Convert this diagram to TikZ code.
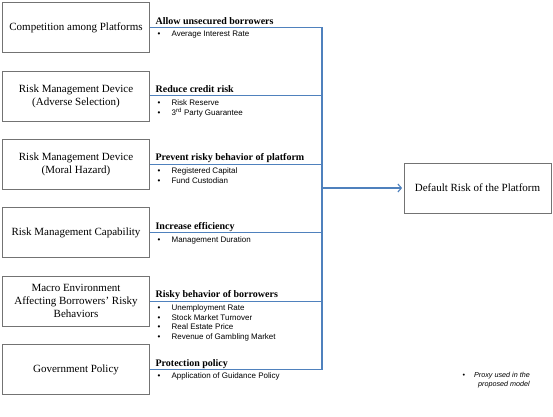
\documentclass[tikz,border=0pt]{standalone}
\usepackage{fontspec}
\setmainfont{Liberation Serif}
\setsansfont{Liberation Sans}
\usetikzlibrary{arrows.meta, positioning}

\definecolor{busblue}{RGB}{79,129,189}
\newcommand{\itm}[1]{\makebox[14pt][l]{\textbullet}#1}

\begin{document}
\begin{tikzpicture}[
    x=1pt, y=-1pt,
    factor/.style={draw=black!55, line width=0.8pt, minimum width=147pt, minimum height=50pt, align=center, inner sep=2pt, font=\fontsize{11}{13}\selectfont},
    head/.style={anchor=base west, inner sep=0pt, xshift=5.5pt, yshift=3.5pt, font=\fontsize{10}{12}\selectfont\bfseries},
    proxy/.style={anchor=base west, inner sep=0pt, xshift=7.5pt, yshift=-9.3pt, font=\sffamily\fontsize{8}{9.6}\selectfont},
    bus/.style={draw=busblue, line width=1.1pt, line join=miter},
    node distance=17.6pt,
]
\useasboundingbox (0,0) rectangle (553,416);

% Factors
\node[factor] (comp) at (76,27.5) {Competition among Platforms};
\node[factor, below=of comp] (adv) {Risk Management Device\\(Adverse Selection)};
\node[factor, below=of adv] (moral) {Risk Management Device\\(Moral Hazard)};
\node[factor, below=of moral] (capab) {Risk Management Capability};
\node[factor, below=of capab] (macro) {Macro Environment\\Affecting Borrowers' Risky\\Behaviors};
\node[factor, below=of macro] (gov) {Government Policy};

% Outcome
\node[factor] (risk) at (477.5,188) {Default Risk of the Platform};

% Mechanisms and proxies
\node[head] at (comp.east) {Allow unsecured borrowers};
\node[proxy] at (comp.east) {\begin{tabular}[t]{@{}l@{}}\itm{Average Interest Rate}\end{tabular}};
\node[head] at (adv.east) {Reduce credit risk};
\node[proxy] at (adv.east) {\begin{tabular}[t]{@{}l@{}}\itm{Risk Reserve}\\\itm{3\textsuperscript{rd} Party Guarantee}\end{tabular}};
\node[head] at (moral.east) {Prevent risky behavior of platform};
\node[proxy] at (moral.east) {\begin{tabular}[t]{@{}l@{}}\itm{Registered Capital}\\\itm{Fund Custodian}\end{tabular}};
\node[head] at (capab.east) {Increase efficiency};
\node[proxy] at (capab.east) {\begin{tabular}[t]{@{}l@{}}\itm{Management Duration}\end{tabular}};
\node[head] at (macro.east) {Risky behavior of borrowers};
\node[proxy] at (macro.east) {\begin{tabular}[t]{@{}l@{}}\itm{Unemployment Rate}\\\itm{Stock Market Turnover}\\\itm{Real Estate Price}\\\itm{Revenue of Gambling Market}\end{tabular}};
\node[head] at (gov.east) {Protection policy};
\node[proxy] at (gov.east) {\begin{tabular}[t]{@{}l@{}}\itm{Application of Guidance Policy}\end{tabular}};

% Legend
\node[anchor=base east, inner sep=0pt, font=\sffamily\itshape\fontsize{7.2}{9}\selectfont] (note) at (530,377)
    {\begin{tabular}[t]{@{}l@{\hspace{9pt}}r@{}}\textup{\textbullet} & Proxy used in the\\ & proposed model\end{tabular}};

% Bus
\coordinate (bus) at (322,0);
\foreach \f [count=\i] in {comp,adv,moral,capab,macro,gov}
    \coordinate (j\i) at (\f.east -| bus);
\coordinate (jt) at (risk.west -| bus);

\draw[bus] (comp.east) -- (j1) -- (j6) -- (gov.east);
\foreach \f [count=\i from 2] in {adv,moral,capab,macro}
    \draw[bus] (\f.east) -- (j\i);
\draw[bus, -{Straight Barb[length=3.5pt, width=8pt]}, shorten >=1.5pt] (jt) -- (risk.west);
\end{tikzpicture}
\end{document}
